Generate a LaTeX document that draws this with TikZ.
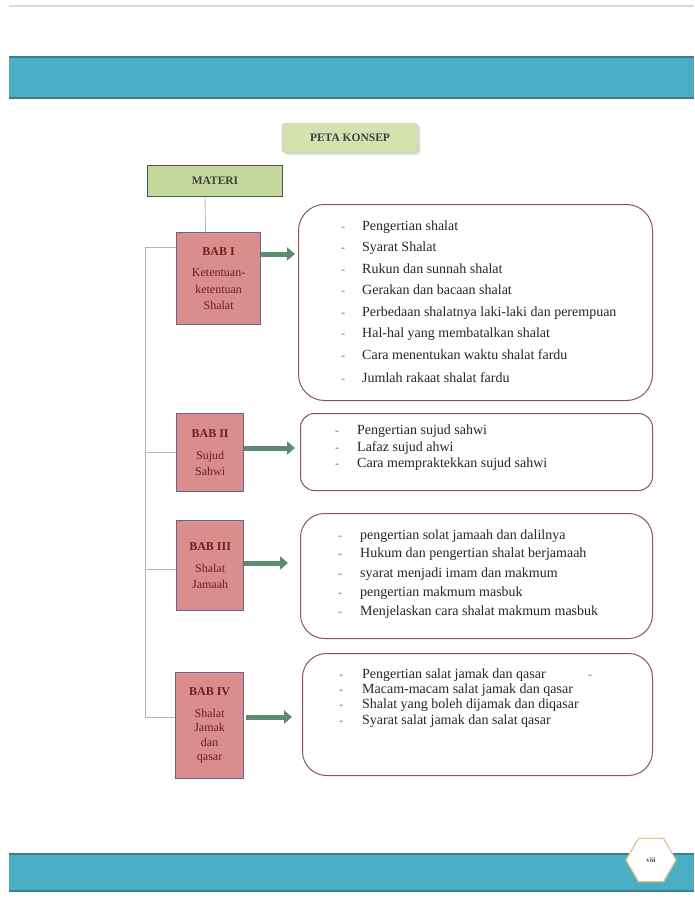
\documentclass[tikz,border=0pt]{standalone}
\usepackage{fontspec}
\setmainfont{Liberation Serif}
\usetikzlibrary{positioning,shapes.geometric,shadows,arrows.meta}
\definecolor{pita}{HTML}{4AAEC4}
\definecolor{pitatepi}{HTML}{3E7D8A}
\definecolor{hijaumuda}{HTML}{D3E2AE}
\definecolor{hijau}{HTML}{C4D79C}
\definecolor{hijautua}{HTML}{4A5C46}
\definecolor{merahmuda}{HTML}{D98D8D}
\definecolor{ungu}{HTML}{6C6482}
\definecolor{marun}{HTML}{6E1F1F}
\definecolor{panah}{HTML}{5C8C70}
\definecolor{cokelat}{HTML}{8C5656}
\definecolor{emas}{HTML}{E2C489}
\definecolor{garis}{HTML}{A9B8C8}

\tikzset{
	babbox/.style={draw=ungu, line width=1.2pt, fill=merahmuda, align=center, anchor=north west,
		text=marun, font=\fontsize{12}{16.5}\selectfont, inner sep=1pt},
	isibox/.style={draw=cokelat, line width=1pt, fill=white, anchor=north west},
	butir/.style={anchor=base west, inner sep=0pt, text=black!85, font=\fontsize{14}{16}\selectfont},
	strip/.style={anchor=base, inner sep=0pt, text=black!55, font=\fontsize{12}{14}\selectfont},
	cabang/.style={draw=garis, line width=0.8pt},
	panahhijau/.style={draw=panah, line width=5pt, -{Triangle[width=13pt,length=8pt]}},
}

\begin{document}
\begin{tikzpicture}[x=1pt, y=-1pt]
	% page 694 x 912 px
	\useasboundingbox (0,0) rectangle (694,912);
	\fill[white] (0,0) rectangle (694,912);
	\draw[gray!30, line width=1.5pt] (9,6) -- (694,6);

	% top band
	\fill[pita] (9,56) rectangle (694,99);
	\draw[pitatepi, line width=1.2pt] (9,57) -- (694,57);
	\draw[pitatepi, line width=1.2pt] (9,98) -- (694,98);

	% bottom band
	\fill[pita] (9,853) rectangle (694,892);
	\draw[pitatepi, line width=1.2pt] (9,854) -- (694,854);
	\draw[pitatepi, line width=1.2pt] (9,891) -- (694,891);
	\node[regular polygon, regular polygon sides=6, draw=emas, line width=1.2pt,
		fill=white, minimum size=50pt, inner sep=0pt, font=\fontsize{7}{8}\selectfont\bfseries, text=black!70]
		(hal) at (651,860) {viii};

	% title
	\node[draw=hijau!70!gray, fill=hijaumuda, rounded corners=3pt, drop shadow={opacity=0.25},
		minimum width=136pt, minimum height=29pt, font=\fontsize{11.5}{13}\selectfont\bfseries, text=black!75]
		(peta) at (350,138) {PETA KONSEP};
	\node[draw=hijautua, line width=1.5pt, fill=hijau, minimum width=135pt, minimum height=31pt,
		font=\fontsize{11.5}{13}\selectfont\bfseries, text=black!75]
		(materi) at (215,181) {MATERI};

	% BAB boxes
	\node[babbox, minimum width=84pt, minimum height=92pt] (bab1) at (176,232)
		{\textbf{BAB I}\\[5pt]Ketentuan-\\ketentuan\\Shalat};
	\node[babbox, minimum width=67pt, minimum height=78pt] (bab2) at (176,413)
		{\textbf{BAB II}\\[5pt]Sujud\\Sahwi};
	\node[babbox, minimum width=67pt, minimum height=90pt] (bab3) at (176,520)
		{\textbf{BAB III}\\[5pt]Shalat\\Jamaah};
	\node[babbox, minimum width=68pt, minimum height=106pt] (bab4) at (175,672)
		{\textbf{BAB IV}\\[5pt]Shalat\\[-2pt]Jamak\\[-2pt]dan\\[-2pt]qasar};

	% tree
	\coordinate (tepi1) at (145,247);
	\coordinate (tepi4) at (145,717);
	\draw[cabang] ([xshift=-10pt]materi.south) -- ([xshift=-13pt]bab1.north);
	\draw[cabang] (bab1.west |- tepi1) -- (tepi1) -- (tepi4) -- (bab4.west |- tepi4);
	\draw[cabang] (tepi1 |- 0,452) -- (bab2.west |- 0,452);
	\draw[cabang] (tepi1 |- 0,569) -- (bab3.west |- 0,569);

	% content boxes
	\node[isibox, rounded corners=26pt, minimum width=354pt, minimum height=196pt] (isi1) at (298,204) {};
	\node[isibox, rounded corners=14pt, minimum width=352pt, minimum height=77pt] (isi2) at (300,413) {};
	\node[isibox, rounded corners=24pt, minimum width=352pt, minimum height=125pt] (isi3) at (300,513) {};
	\node[isibox, rounded corners=24pt, minimum width=350pt, minimum height=122pt] (isi4) at (302,653) {};

	% arrows
	\draw[panahhijau] (bab1.east |- 0,254) -- ([xshift=-3pt]isi1.west |- 0,254);
	\draw[panahhijau] (bab2.east |- 0,448) -- ([xshift=-5pt]isi2.west |- 0,448);
	\draw[panahhijau] (bab3.east |- 0,563) -- ([xshift=-12pt]isi3.west |- 0,563);
	\draw[panahhijau] ([xshift=2pt]bab4.east |- 0,717) -- ([xshift=-10pt]isi4.west |- 0,717);

	% items (base line = centre + 4)
	\foreach \y/\t [count=\i] in {230/Pengertian shalat, 251/Syarat Shalat, 273/Rukun dan sunnah shalat,
		294/Gerakan dan bacaan shalat, 316/Perbedaan shalatnya laki-laki dan perempuan,
		337/Hal-hal yang membatalkan shalat, 359/Cara menentukan waktu shalat fardu,
		382/Jumlah rakaat shalat fardu}
	{
		\node[strip] (s1-\i) at (343,\y) {-};
		\node[butir] (t1-\i) at (362,\y) {\t};
	}
	\foreach \y/\t [count=\i] in {434/Pengertian sujud sahwi, 451/Lafaz sujud ahwi,
		467/Cara mempraktekkan sujud sahwi}
	{
		\node[strip] (s2-\i) at (337,\y) {-};
		\node[butir] (t2-\i) at (357,\y) {\t};
	}
	\foreach \y/\t [count=\i] in {539/pengertian solat jamaah dan dalilnya,
		557/Hukum dan pengertian shalat berjamaah, 577/syarat menjadi imam dan makmum,
		596/pengertian makmum masbuk, 615/Menjelaskan cara shalat makmum masbuk}
	{
		\node[strip] (s3-\i) at (340,\y) {-};
		\node[butir] (t3-\i) at (360,\y) {\t};
	}
	\foreach \y/\t [count=\i] in {678/Pengertian salat jamak dan qasar, 693/Macam-macam salat jamak dan qasar,
		708/Shalat yang boleh dijamak dan diqasar, 724/Syarat salat jamak dan salat qasar}
	{
		\node[strip] (s4-\i) at (341,\y) {-};
		\node[butir] (t4-\i) at (362,\y) {\t};
	}
	\node[strip] (s4-x) at (590,678) {-};
\end{tikzpicture}
\end{document}
